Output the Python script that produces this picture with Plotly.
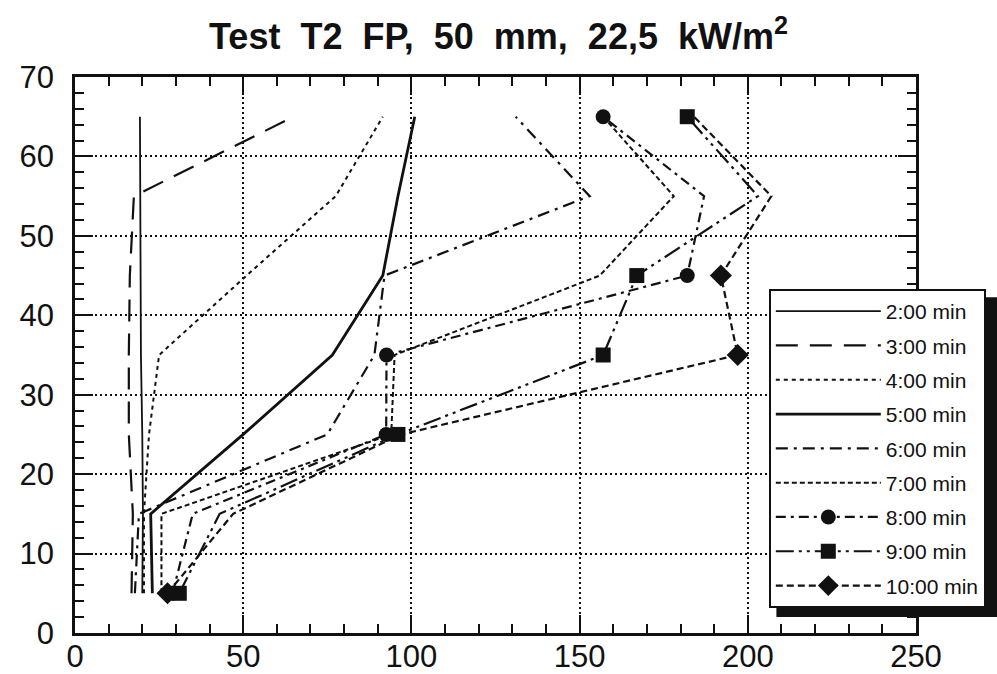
import plotly.graph_objects as go

# Thermocouple depth (mm) and temperatures (degC) at each time step
depth = [5, 15, 25, 35, 45, 55, 65]

t_2min = [20.0, 20.2, 20.0, 19.6, 19.5, 19.4, 19.3]
t_3min = [16.8, 17.2, 16.0, 16.0, 16.3, 17.5, 65.0]
t_4min = [20.5, 20.5, 22.0, 25.0, 51.0, 77.5, 91.5]
t_5min = [23.0, 22.5, 50.0, 76.5, 91.5, 96.0, 101.0]
t_6min = [17.8, 19.0, 75.0, 89.0, 92.0, 153.0, 131.0]
t_7min = [25.7, 25.7, 94.0, 95.0, 156.0, 178.0, 157.0]
t_8min = [29.0, 35.0, 92.5, 92.6, 182.0, 187.0, 157.0]
t_9min = [31.0, 43.0, 96.0, 157.0, 167.0, 203.0, 182.0]
t_10min = [27.5, 47.0, 97.0, 197.0, 192.0, 207.0, 184.0]

labels = ["2:00 min", "3:00 min", "4:00 min", "5:00 min", "6:00 min",
          "7:00 min", "8:00 min", "9:00 min", "10:00 min"]
temps = [t_2min, t_3min, t_4min, t_5min, t_6min, t_7min, t_8min, t_9min, t_10min]

# which depths carry a symbol on the marked curves
marked_8 = [0, 2, 3, 4, 6]
marked_9 = [0, 2, 3, 4, 6]
marked_10 = [0, 3, 4]

# line style per series: (dash, width, marker symbol, marker size, marked points)
styles = [
    ("solid", 1.8, None, 0, None),
    ("22px,12px", 2.2, None, 0, None),
    ("4px,4px", 2.0, None, 0, None),
    ("solid", 2.8, None, 0, None),
    ("12px,6px,3px,6px", 2.2, None, 0, None),
    ("5px,3px", 2.0, None, 0, None),
    ("10px,5px,3px,5px", 2.2, "circle", 15, marked_8),
    ("18px,5px,3px,5px,3px,5px", 2.2, "square", 15, marked_9),
    ("7px,4px", 2.2, "diamond", 17, marked_10),
]

INK = "#111111"
FONT = "Liberation Sans"

fig = go.Figure()
for i, (name, t) in enumerate(zip(labels, temps)):
    dash, width, symbol, msize, marked = styles[i]
    if symbol:
        kw = dict(mode="lines+markers",
                  marker=dict(symbol=symbol, size=msize, color=INK, line=dict(width=0)),
                  selectedpoints=marked,
                  selected=dict(marker=dict(opacity=1)),
                  unselected=dict(marker=dict(opacity=0)))
    else:
        kw = dict(mode="lines")
    fig.add_trace(go.Scatter(
        x=t, y=depth, name=name, legendgroup=name,
        line=dict(color=INK, width=width, dash=dash), **kw,
    ))

axis_common = dict(
    showline=True, linecolor=INK, linewidth=2.5, mirror="ticks",
    ticks="inside", ticklen=18, tickwidth=2, tickcolor=INK,
    showgrid=True, gridcolor=INK, gridwidth=1.5, griddash="2px,3px",
    zeroline=False, automargin=False,
    tickfont=dict(family=FONT, size=31, color=INK),
)

fig.update_xaxes(range=[0, 250], dtick=50, tick0=0,
                 minor=dict(dtick=10, ticklen=9, tickwidth=1.8, tickcolor=INK,
                            ticks="inside", showgrid=False),
                 ticklabelstandoff=-6, **axis_common)
fig.update_yaxes(range=[0, 70], dtick=10, tick0=0,
                 minor=dict(dtick=2, ticklen=9, tickwidth=1.8, tickcolor=INK,
                            ticks="inside", showgrid=False),
                 ticklabelstandoff=12, **axis_common)

# drop shadow behind the legend box
fig.add_shape(type="rect", xref="paper", yref="paper",
              x0=0.834, x1=1.1, y0=0.0288, y1=0.604,
              fillcolor=INK, line=dict(width=0), layer="above")

NB = "\u00a0"
title_words = ["Test", "T2", "FP,", "50", "mm,", "22,5", "kW/m<sup>2</sup>"]

fig.update_layout(
    width=997, height=674,
    margin=dict(l=75, r=80, t=77, b=41),
    paper_bgcolor="white", plot_bgcolor="white",
    title=dict(text=(" " + NB).join(title_words),
               x=0.5, xanchor="center", y=0.946, yanchor="middle",
               font=dict(family=FONT, size=36, color=INK, weight="bold")),
    legend=dict(x=0.824, y=0.6187, xanchor="left", yanchor="top",
                bgcolor="white", bordercolor=INK, borderwidth=2,
                font=dict(family=FONT, size=21, color=INK),
                itemwidth=105, tracegroupgap=4, traceorder="grouped"),
    showlegend=True,
)

fig.write_html("out.html")
